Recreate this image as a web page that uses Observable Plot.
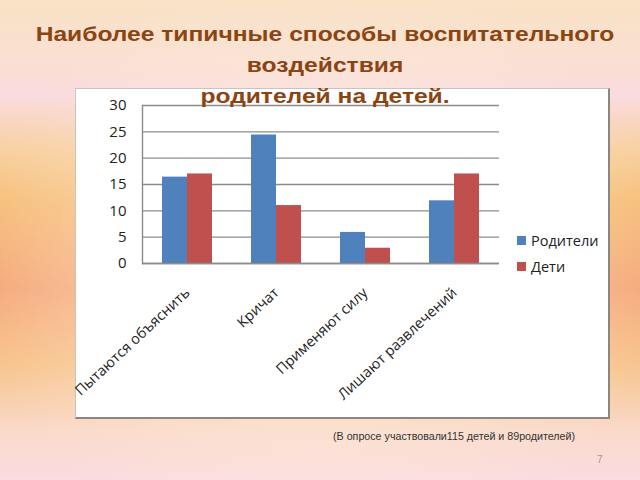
<!DOCTYPE html>
<html>
<head>
<meta charset="utf-8">
<script src="https://cdn.jsdelivr.net/npm/d3@7"></script>
<script src="https://cdn.jsdelivr.net/npm/@observablehq/plot@0.6"></script>
<style>
  html, body { margin: 0; padding: 0; }
  #page {
    position: relative; width: 640px; height: 480px; overflow: hidden;
    background:
      radial-gradient(ellipse 55% 60% at 50% 55%, rgba(253,236,218,0.8) 0%, rgba(253,236,218,0.45) 50%, rgba(253,236,218,0) 100%),
      linear-gradient(to bottom, #f9e2c5 0%, #fae0d2 12%, #fadbdf 20%, #f8cf9c 32%, #f6be78 42%, #f5a678 60%, #f7c48c 76%, #fadacb 90%, #fbdce1 100%);
    font-family: "Liberation Sans", Arial, sans-serif;
  }
  #title {
    position: absolute; left: 0; top: 19px; width: 650px; text-align: center;
    color: #8b4513; font-weight: bold; font-size: 20px; line-height: 31px; z-index: 3;
    font-family: "Liberation Sans", Arial, sans-serif;
    transform: scaleX(1.23); transform-origin: 325px 0;
  }
  #box {
    position: absolute; left: 75px; top: 88px; width: 532px; height: 328px;
    background: #fff; border-left: 1px solid #c8c4c0; border-top: 1px solid #c8c4c0;
    border-right: 2px solid #8c8680; border-bottom: 2px solid #8c8680; z-index: 1;
  }
  #legend {
    position: absolute; left: 517px; top: 227px; z-index: 2;
    font-family: "Open Sans", sans-serif; font-size: 14.5px; color: #222;
  }
  #legend .item { display: flex; align-items: center; height: 26px; }
  #legend .sw { width: 9px; height: 9px; margin-right: 5px; }
  #caption {
    position: absolute; left: 333px; top: 430px; font-size: 10.7px; color: #333; z-index: 2;
  }
  #pagenum {
    position: absolute; left: 597px; top: 454px; font-size: 10px; color: #999; z-index: 2;
  }
</style>
</head>
<body>
<div id="page">
  <div id="title"></div>
  <div id="box"></div>
  <div id="legend"></div>
  <div id="caption"></div>
  <div id="pagenum"></div>
</div>
<script>
const titleLines = ["Наиболее типичные способы воспитательного", "воздействия", "родителей на детей."];
const categories = ["Пытаются объяснить", "Кричат", "Применяют силу", "Лишают развлечений"];
const seriesNames = ["Родители", "Дети"];
const parents = [16.4, 24.4, 5.9, 11.9];
const children = [17, 11, 2.9, 17];
const yTicks = [0, 5, 10, 15, 20, 25, 30];
const colors = ["#4f81bd", "#c0504d"];
const captionText = "(В опросе участвовали115 детей и 89родителей)";
const pageNumber = "7";

document.getElementById("title").innerHTML = titleLines.join("<br>");
document.getElementById("caption").textContent = captionText;
document.getElementById("pagenum").textContent = pageNumber;

const data = categories.map((c, i) => ({cat: c, parents: parents[i], children: children[i]}));

const chart = Plot.plot({
  width: 532,
  height: 328,
  marginLeft: 65,
  marginRight: 110,
  marginTop: 15,
  marginBottom: 155,
  style: {background: "transparent", fontFamily: "'Open Sans', sans-serif", fontSize: "14px", color: "#222", overflow: "visible"},
  x: {type: "band", domain: categories, paddingInner: 0.44, paddingOuter: 0.22, label: null},
  y: {domain: [0, 30], label: null},
  marks: [
    Plot.ruleY(yTicks, {stroke: "#8c8c8c", strokeWidth: 1.4}),
    Plot.barY(data, {x: "cat", y: "parents", fill: colors[0], insetRight: 25}),
    Plot.barY(data, {x: "cat", y: "children", fill: colors[1], insetLeft: 25}),
    Plot.ruleY([0], {stroke: "#8c8c8c", strokeWidth: 1.4}),
    Plot.frame({anchor: "left", stroke: "#8c8c8c", strokeWidth: 1.4}),
    Plot.axisY({ticks: yTicks, tickSize: 0, tickPadding: 16, label: null, fontSize: 15, fill: "#222"}),
    Plot.axisX({tickSize: 0, tickPadding: 27, tickRotate: -43, textAnchor: "end", label: null, fontSize: 14.5})
  ]
});
chart.style.position = "absolute";
chart.style.left = "1px";
chart.style.top = "1px";
document.getElementById("box").appendChild(chart);

const legend = document.getElementById("legend");
seriesNames.forEach((n, i) => {
  const item = document.createElement("div");
  item.className = "item";
  item.innerHTML = `<span class="sw" style="background:${colors[i]}"></span><span>${n}</span>`;
  legend.appendChild(item);
});
</script>
</body>
</html>
